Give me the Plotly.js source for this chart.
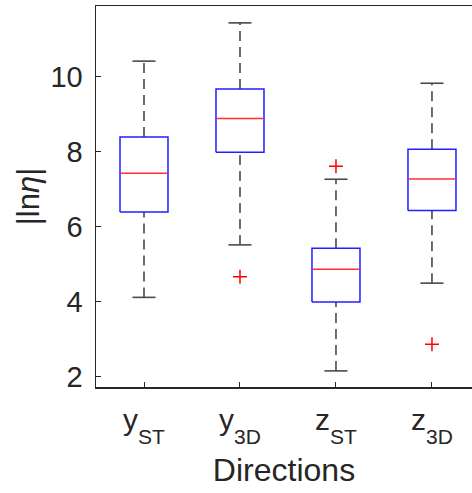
<!DOCTYPE html>
<html>
<head>
<meta charset="utf-8">
<script src="https://cdn.plot.ly/plotly-3.0.1.min.js"></script>
<style>html,body{margin:0;padding:0;background:#fff;overflow:hidden}</style>
</head>
<body>
<div id="chart" style="width:472px;height:493px"></div>
<script>
// Data
const categories = ["y|ST", "y|3D", "z|ST", "z|3D"];
const q1        = [6.39, 7.98, 3.99, 6.43];
const medians   = [7.42, 8.88, 4.86, 7.27];
const q3        = [8.39, 9.67, 5.42, 8.06];
const lowerWhisker = [4.11, 5.51, 2.15, 4.49];
const upperWhisker = [10.41, 11.43, 7.26, 9.82];
const outlierX  = [2, 3, 4];
const outlierY  = [4.66, 7.61, 2.86];
const yTicks = [2, 4, 6, 8, 10];

const tickText = categories.map(c => {
  const [base, sub] = c.split('|');
  return base + '<span style="font-size:21px;baseline-shift:-14px">' + sub + '</span>';
});

const boxHalf = 0.25, capHalf = 0.12;
const traces = [];
const font = "Liberation Sans, Arial, Helvetica, sans-serif";
const whisk = '#4a4a4a';

categories.forEach((c, i) => {
  const x = i + 1;
  traces.push({x:[x,x], y:[q3[i], upperWhisker[i]], mode:'lines', line:{color:whisk, width:1.6, dash:'10px,6px'}, hoverinfo:'skip', showlegend:false});
  traces.push({x:[x,x], y:[lowerWhisker[i], q1[i]], mode:'lines', line:{color:whisk, width:1.6, dash:'10px,6px'}, hoverinfo:'skip', showlegend:false});
  traces.push({x:[x-capHalf, x+capHalf], y:[upperWhisker[i], upperWhisker[i]], mode:'lines', line:{color:whisk, width:1.6}, hoverinfo:'skip', showlegend:false});
  traces.push({x:[x-capHalf, x+capHalf], y:[lowerWhisker[i], lowerWhisker[i]], mode:'lines', line:{color:whisk, width:1.6}, hoverinfo:'skip', showlegend:false});
  traces.push({x:[x-boxHalf, x+boxHalf, x+boxHalf, x-boxHalf, x-boxHalf], y:[q1[i], q1[i], q3[i], q3[i], q1[i]], mode:'lines', line:{color:'#2020ff', width:1.5}, hoverinfo:'skip', showlegend:false});
  traces.push({x:[x-boxHalf, x+boxHalf], y:[medians[i], medians[i]], mode:'lines', line:{color:'#ff3030', width:1.5}, hoverinfo:'skip', showlegend:false});
});
traces.push({x:outlierX, y:outlierY, mode:'markers', marker:{symbol:'cross-thin-open', size:10, line:{color:'#ff0000', width:1.5}, color:'#ff0000'}, hoverinfo:'skip', showlegend:false});

const layout = {
  width: 472, height: 493,
  margin: {l:96, r:0, t:6, b:106},
  paper_bgcolor:'#fff', plot_bgcolor:'#fff',
  font: {family: font, color:'#262626'},
  showlegend:false,
  xaxis: {
    range:[0.5, 4.417], tickvals:[1,2,3,4], ticktext: tickText,
    ticks:'inside', ticklen:5, tickcolor:'#262626', tickwidth:1,
    showline:true, linecolor:'#262626', linewidth:1.5, mirror:true,
    showgrid:false, zeroline:false,
    tickfont:{size:30, family:font, color:'#262626'},
    ticklabelstandoff: 5,
    title:{text:'Directions', font:{size:32, family:font, color:'#262626'}, standoff:12}
  },
  yaxis: {
    range:[1.72, 11.88], tickvals: yTicks,
    ticks:'inside', ticklen:5, tickcolor:'#262626', tickwidth:1,
    showline:true, linecolor:'#262626', linewidth:1.5, mirror:false,
    showgrid:false, zeroline:false,
    tickfont:{size:29, family:font, color:'#262626'},
    ticklabelstandoff: 6,
    title:{text:'|ln<i>η</i>|', font:{size:31, family:font, color:'#262626'}, standoff:1}
  }
};
Plotly.newPlot('chart', traces, layout, {staticPlot:true, displayModeBar:false});
</script>
</body>
</html>
